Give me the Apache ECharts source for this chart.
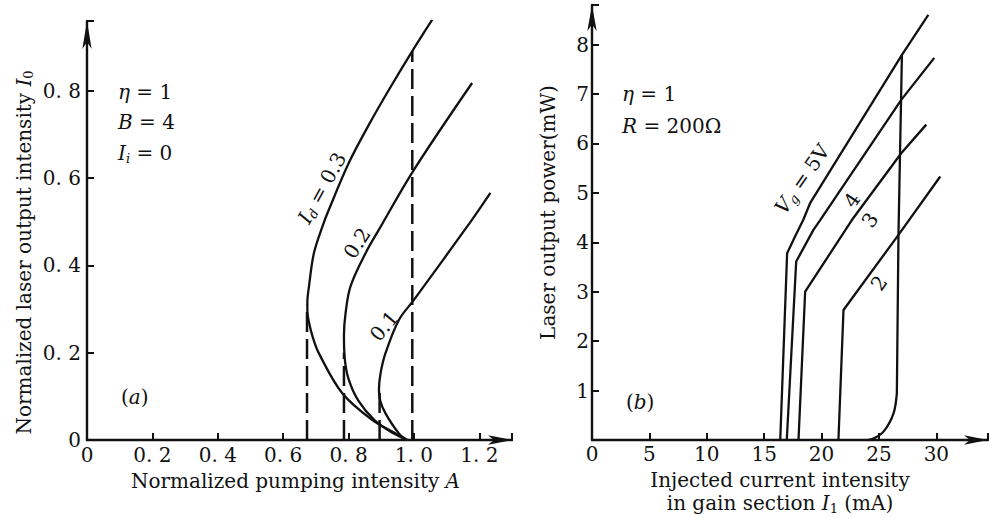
<!DOCTYPE html>
<html>
<head>
<meta charset="utf-8">
<script src="https://cdn.jsdelivr.net/npm/echarts@6/dist/echarts.min.js"></script>
<style>
  html, body { margin: 0; background: #fff; }
  #chart { width: 989px; height: 518px; }
</style>
</head>
<body>
<div id="chart"></div>
<script>
// (a) bistable curves, points run along each curve:
// lower branch from A~1 up to the turning point, then the upper branch
const id03A = [0.979, 0.944, 0.872, 0.781, 0.709, 0.69, 0.679, 0.674, 0.674, 0.679, 0.694, 0.72, 0.74, 0.801, 0.862, 0.924, 0.995, 1.056];
const id03I = [0, 0.015, 0.046, 0.107, 0.199, 0.237, 0.27, 0.295, 0.315, 0.352, 0.428, 0.489, 0.528, 0.635, 0.722, 0.803, 0.891, 0.963];
const id02A = [0.979, 0.94, 0.88, 0.83, 0.80, 0.788, 0.786, 0.791, 0.806, 0.852, 0.893, 1.0, 1.178];
const id02I = [0, 0.014, 0.045, 0.09, 0.14, 0.19, 0.24, 0.291, 0.352, 0.428, 0.482, 0.619, 0.818];
const id01A = [0.979, 0.954, 0.913, 0.897, 0.893, 0.898, 0.913, 0.954, 1.0, 1.178, 1.234];
const id01I = [0, 0.015, 0.061, 0.09, 0.115, 0.153, 0.199, 0.275, 0.321, 0.505, 0.566];
// dashed switching lines in (a)
const jumpA = [0.673, 0.786, 0.895, 0.995];
const jumpTop = [0.31, 0.2, 0.11, 0.891];

// (b) output power vs injected current for Vg = 5, 4, 3, 2 V
const v5X = [16.4, 17.0, 17.7, 18.4, 19.0, 27.0, 29.3];
const v5P = [0, 3.78, 4.12, 4.45, 4.79, 7.79, 8.6];
const v4X = [16.97, 17.79, 19.29, 19.88, 26.94, 29.82];
const v4P = [0, 3.61, 4.25, 4.45, 6.88, 7.73];
const v3X = [17.99, 18.57, 22.64, 26.94, 29.12];
const v3P = [0, 3.0, 4.45, 5.8, 6.38];
const v2X = [21.47, 21.91, 26.7, 30.34];
const v2P = [0, 2.63, 4.15, 5.33];
// switch-off edge on the right of (b)
const offBendX = [24.06, 24.52, 25.4, 26.27, 26.56];
const offBendP = [0, 0.03, 0.17, 0.54, 0.95];
const offEdgeX = [26.56, 26.7, 27.0];
const offEdgeP = [0.95, 4.15, 7.79];

const ink = "#111";
const serif = '"DejaVu Serif", "Liberation Serif", serif';

const rich = {
  it: { fontFamily: serif, fontStyle: "italic", fontSize: 20, color: ink },
  sub: { fontFamily: serif, fontSize: 13, color: ink, padding: [10, 0, 0, 0] },
  subi: { fontFamily: serif, fontStyle: "italic", fontSize: 13, color: ink, padding: [10, 0, 0, 0] },
};

function zip(xs, ys) {
  return xs.map((x, i) => [x, ys[i]]);
}

function fmtTenths(v) {
  const k = Math.round(v * 5);
  if (Math.abs(v * 5 - k) > 1e-6) return "";
  return k === 0 ? "0" : (k / 5).toFixed(1).replace(".", ". ");
}

function axisLook(arrow) {
  return {
    axisLine: {
      show: true,
      symbol: ["none", "arrow"],
      symbolSize: arrow,
      lineStyle: { color: ink, width: 2.4 },
    },
    axisTick: { show: true, inside: true, length: 7, lineStyle: { color: ink, width: 2 } },
    splitLine: { show: false },
  };
}

function labelLook(margin) {
  return { color: ink, fontFamily: serif, fontSize: 20, margin: margin };
}

function curve(name, data, xi, smooth) {
  return {
    name: name,
    type: "line",
    xAxisIndex: xi,
    yAxisIndex: xi,
    data: data,
    smooth: smooth,
    symbol: "none",
    lineStyle: { color: ink, width: 2.3 },
    silent: true,
  };
}

const series = [
  curve("Id=0.3", zip(id03A, id03I), 0, 0.35),
  curve("Id=0.2", zip(id02A, id02I), 0, 0.35),
  curve("Id=0.1", zip(id01A, id01I), 0, 0.35),
];
jumpA.forEach((a, i) => {
  const s = curve("jump" + i, [[a, 0], [a, jumpTop[i]]], 0, false);
  s.lineStyle = { color: ink, width: 2.5, type: [20, 7] };
  series.push(s);
});
series.push(curve("Vg=5", zip(v5X, v5P), 1, false));
series.push(curve("Vg=4", zip(v4X, v4P), 1, false));
series.push(curve("Vg=3", zip(v3X, v3P), 1, false));
series.push(curve("Vg=2", zip(v2X, v2P), 1, false));
series.push(curve("off-bend", zip(offBendX, offBendP), 1, 0.4));
series.push(curve("off-edge", zip(offEdgeX, offEdgeP), 1, false));

function txt(x, y, text, rot) {
  return {
    type: "text",
    x: x,
    y: y,
    rotation: (rot || 0) * Math.PI / 180,
    style: {
      text: text,
      fill: ink,
      font: '20px "DejaVu Serif", serif',
      align: rot ? "center" : "left",
      verticalAlign: "middle",
      rich: rich,
    },
    silent: true,
  };
}

const chart = echarts.init(document.getElementById("chart"), null, { renderer: "svg" });

chart.setOption({
  animation: false,
  backgroundColor: "#fff",
  grid: [
    { left: 87, top: 21, width: 425, height: 419, containLabel: false, outerBoundsMode: "none" },
    { left: 592, top: 5, width: 396, height: 435, containLabel: false, outerBoundsMode: "none" },
  ],
  xAxis: [
    Object.assign(axisLook([7, 24]), {
      type: "value", gridIndex: 0, min: 0, max: 1.3, interval: 0.2,
      axisLabel: Object.assign(labelLook(5), { formatter: fmtTenths }),
      name: "Normalized pumping intensity {it|A}",
      nameLocation: "middle",
      nameGap: 31,
      nameTextStyle: { color: ink, fontFamily: serif, fontSize: 20, padding: [0, 8, 0, 0], rich: rich },
    }),
    Object.assign(axisLook([7, 24]), {
      type: "value", gridIndex: 1, min: 0, max: 34.5, interval: 5,
      axisLabel: Object.assign(labelLook(4), {
        formatter: (v) => (v % 5 === 0 ? String(v) : ""),
      }),
      name: "Injected current intensity\nin gain section {it|I}{sub|1} (mA)",
      nameLocation: "middle",
      nameGap: 27,
      nameTextStyle: { color: ink, fontFamily: serif, fontSize: 20, lineHeight: 23, padding: [0, 20, 0, 0], rich: rich },
    }),
  ],
  yAxis: [
    Object.assign(axisLook([7, 28]), {
      type: "value", gridIndex: 0, min: 0, max: 0.96, interval: 0.2,
      axisLabel: Object.assign(labelLook(6), { formatter: fmtTenths }),
      name: "Normalized laser output intensity {it|I}{sub|0}",
      nameLocation: "middle",
      nameGap: 52,
      nameTextStyle: { color: ink, fontFamily: serif, fontSize: 20, padding: [0, 44, 0, 0], rich: rich },
    }),
    Object.assign(axisLook([7, 26]), {
      type: "value", gridIndex: 1, min: 0, max: 8.8, interval: 1,
      axisLabel: Object.assign(labelLook(3), {
        formatter: (v) => (v > 0 && Number.isInteger(v) ? String(v) : ""),
      }),
      name: "Laser output power(mW)",
      nameLocation: "middle",
      nameGap: 34,
      nameTextStyle: { color: ink, fontFamily: serif, fontSize: 20, padding: [0, 0, 0, 20] },
    }),
  ],
  graphic: [
    txt(118, 92, "{it|η} = 1"),
    txt(118, 122, "{it|B} = 4"),
    txt(118, 153, "{it|I}{subi|i} = 0"),
    txt(121, 397, "({it|a})"),
    txt(622, 94, "{it|η} = 1"),
    txt(622, 126, "{it|R} = 200Ω"),
    txt(626, 402, "({it|b})"),
    txt(322, 188, "{it|I}{subi|d} = 0.3", 61),
    txt(357, 243, "0.2", 57),
    txt(384, 326, "0.1", 50),
    txt(802, 179, "{it|V}{subi|g} = 5V", 55),
    txt(852, 200, "4", 55),
    txt(870, 220, "3", 55),
    txt(879, 283, "2", 55),
  ],
  series: series,
});
</script>
</body>
</html>
